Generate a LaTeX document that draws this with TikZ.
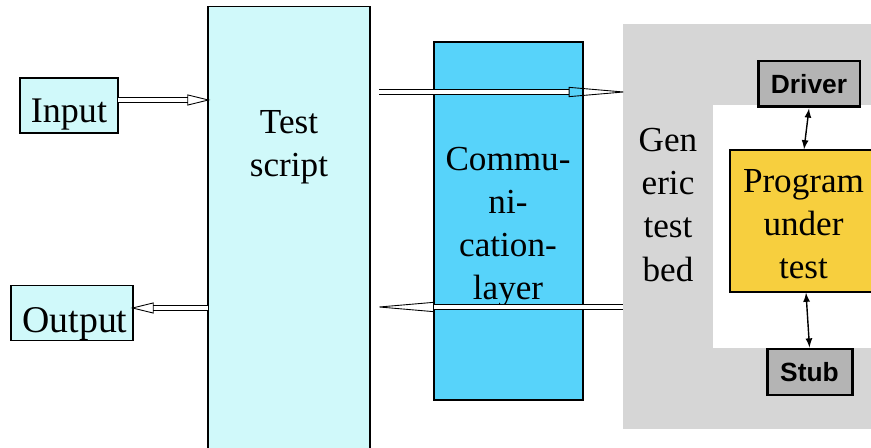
\documentclass[tikz,border=0pt]{standalone}
\usepackage{fontspec}
\setmainfont{Liberation Serif}
\newfontfamily\drvfont{Liberation Sans}
\usetikzlibrary{arrows.meta}
\definecolor{ScriptCyan}{HTML}{D0F9FA}
\definecolor{LayerBlue}{HTML}{57D3FA}
\definecolor{BedGray}{HTML}{D6D6D6}
\definecolor{StubGray}{HTML}{B4B4B4}
\definecolor{ProgYellow}{HTML}{F7CF3E}

\begin{document}
\begin{tikzpicture}[x=0.02cm, y=-0.02cm,
		every node/.style={font=\fontsize{20}{24.5}\selectfont, inner sep=0pt},
		box/.style={draw, line width=0.8pt},
		stubbox/.style={draw, line width=1.7pt, fill=StubGray, font=\drvfont\bfseries\fontsize{15}{18}\selectfont},
		hollow/.style={double, double distance=2.6pt, line width=0.5pt},
		shorttip/.style={hollow, shorten >=-0.06cm, -{Triangle[open, length=0.46cm, width=0.22cm, line width=0.5pt]}},
		longtip/.style={hollow, shorten >=-0.12cm, -{Triangle[open, length=1.2cm, width=0.2cm, line width=0.5pt]}}]
	\useasboundingbox (0,0) rectangle (871,448);
	\clip (0,0) rectangle (871,448);

%	\draw [step=50, gray, thin, opacity=0.5] (0,0) grid (871,448);

	% generic test bed
	\node[fill=BedGray, minimum width=5.34cm, minimum height=8.1cm] (bed) at (756.5,226.5) {};
	\fill[white] (713,105) rectangle (890,348);
	\node (bedtext) at (668,205) [align=center] {Gen\\eric\\test\\bed};

	% left side
	\node[box, fill=ScriptCyan, minimum width=1.96cm, minimum height=1.1cm] (inp) at (69,105.5) {};
	\node[anchor=base, font=\fontsize{20.5}{24}\selectfont] (inptext) at (69,123) {Input};
	\node[box, fill=ScriptCyan, minimum width=2.44cm, minimum height=1.1cm] (out) at (72,313) {};
	\node[anchor=base, font=\fontsize{21.5}{24}\selectfont] (outtext) at (75,333) {Output};
	\node[box, fill=ScriptCyan, minimum width=3.24cm, minimum height=9.06cm] (script) at (289,233) {};
	\node (scripttext) at (289,147) [align=center] {Test\\script};

	% communication layer
	\node[box, fill=LayerBlue, minimum width=2.98cm, minimum height=7.16cm] (comm) at (508.5,221) {};
	\node (commtext) at (508,227) [align=center] {Commu-\\ni-\\cation-\\layer};

	% program, driver, stub
	\node[box, fill=ProgYellow, minimum width=3.2cm, minimum height=2.84cm] (prog) at (810,221) {};
	\node (progtext) at (803.5,224) [align=center] {Program\\under\\test};
	\node[stubbox, minimum width=2.04cm, minimum height=0.92cm] (drv) at (809,84) {Driver};
	\node[stubbox, minimum width=1.7cm, minimum height=0.92cm] (stub) at (809.5,372) {Stub};

	\draw[latex-latex, line width=0.8pt] (drv.south) -- ([xshift=-0.12cm]prog.north);
	\draw[latex-latex, line width=0.8pt] ([xshift=-0.08cm]prog.south) -- (stub.north);

	% data flow
	\coordinate (c0) at (118,100);
	\coordinate (c1) at (379,92);
	\coordinate (c2) at (380,307);
	\coordinate (c3) at (208,308);

	\draw[shorttip] (c0) -- (script.west |- c0);
	\draw[longtip] (c1) -- (bed.west |- c1);
	\draw[longtip] (bed.west |- c2) -- (c2);
	\draw[shorttip] (c3) -- (out.east |- c3);
\end{tikzpicture}
\end{document}
